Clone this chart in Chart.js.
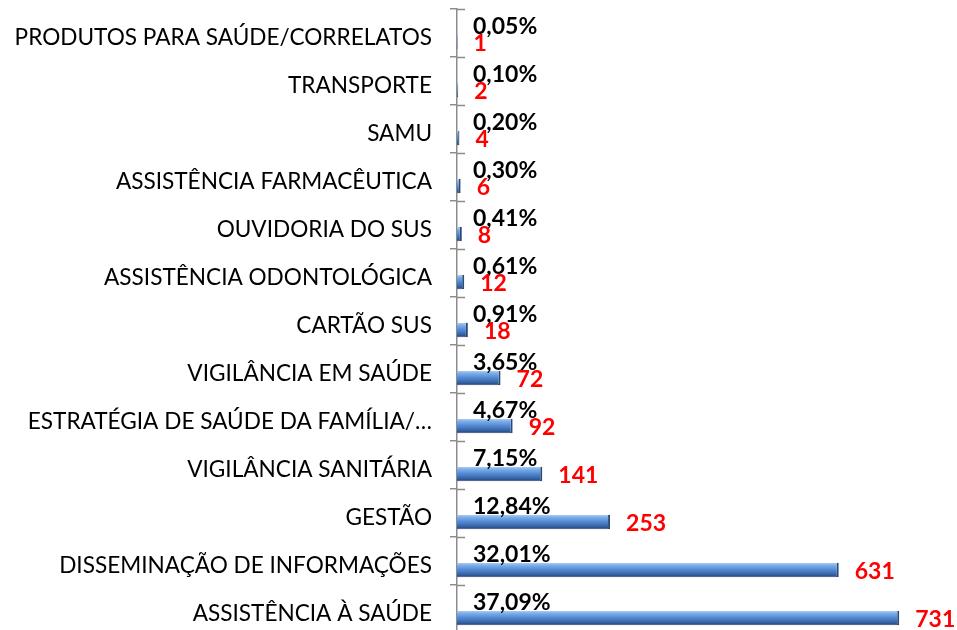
<!DOCTYPE html>
<html>
<head>
<meta charset="utf-8">
<script src="https://cdn.jsdelivr.net/npm/chart.js@4.4.1/dist/chart.umd.min.js"></script>
<style>
  html, body { margin: 0; padding: 0; background: #fff; overflow: hidden; }
  #wrap { width: 957px; height: 633px; }
</style>
</head>
<body>
<div id="wrap"><canvas id="grafico"></canvas></div>
<script>
// dados
const categorias = [
    "PRODUTOS PARA SAÚDE/CORRELATOS",
    "TRANSPORTE",
    "SAMU",
    "ASSISTÊNCIA FARMACÊUTICA",
    "OUVIDORIA DO SUS",
    "ASSISTÊNCIA ODONTOLÓGICA",
    "CARTÃO SUS",
    "VIGILÂNCIA EM SAÚDE",
    "ESTRATÉGIA DE SAÚDE DA FAMÍLIA/…",
    "VIGILÂNCIA SANITÁRIA",
    "GESTÃO",
    "DISSEMINAÇÃO DE INFORMAÇÕES",
    "ASSISTÊNCIA À SAÚDE"
];
const quantidades = [1, 2, 4, 6, 8, 12, 18, 72, 92, 141, 253, 631, 731];
const percentuais = ["0,05%", "0,10%", "0,20%", "0,30%", "0,41%", "0,61%", "0,91%",
    "3,65%", "4,67%", "7,15%", "12,84%", "32,01%", "37,09%"];
const vazio = quantidades.map(() => null); // espaço reservado acima da barra

function corBarra(ctx) {
    const chart = ctx.chart;
    const y = chart.scales.y;
    if (!y || ctx.dataIndex === undefined) return "#4f81bd";
    const centro = y.getPixelForValue(ctx.dataIndex) + 9;
    if (!isFinite(centro)) return "#4f81bd";
    const g = chart.ctx.createLinearGradient(0, centro - 7, 0, centro + 7);
    g.addColorStop(0, "#a9cbf3");
    g.addColorStop(0.2, "#78a9e6");
    g.addColorStop(0.55, "#4c82cc");
    g.addColorStop(0.85, "#335f9c");
    g.addColorStop(1, "#22406c");
    return g;
}

// rótulos: percentual (preto) e quantidade (vermelho)
const rotulos = {
    id: "rotulos",
    afterDatasetsDraw(chart) {
        const c = chart.ctx;
        const x = chart.scales.x;
        const y = chart.scales.y;
        const meta = chart.getDatasetMeta(1);
        c.save();
        c.textBaseline = "middle";
        c.textAlign = "left";
        // marcas do eixo do lado de dentro
        c.strokeStyle = "#8c8c8c";
        c.lineWidth = 1.5;
        for (let i = 0; i <= categorias.length; i++) {
            const yy = Math.round(y.top + i * (y.bottom - y.top) / categorias.length) + 0.5;
            c.beginPath();
            c.moveTo(x.left, yy);
            c.lineTo(x.left + 8, yy);
            c.stroke();
        }
        meta.data.forEach((bar, i) => {
            const centro = y.getPixelForValue(i);
            c.font = "bold 23px Lato";
            c.fillStyle = "#000";
            c.fillText(percentuais[i], x.left + 16, centro - 6);
            c.fillStyle = "#ff0000";
            c.fillText(String(quantidades[i]), bar.x + 16, bar.y + 2);
        });
        c.restore();
    }
};

const grafico = new Chart(document.getElementById("grafico"), {
    type: "bar",
    data: {
        labels: categorias,
        datasets: [
            { data: vazio, backgroundColor: "transparent" },
            {
                data: quantidades,
                backgroundColor: corBarra,
                borderColor: "#2b4a78",
                borderWidth: { top: 0, left: 0, bottom: 1, right: 2 },
                borderSkipped: "left"
            }
        ]
    },
    options: {
        indexAxis: "y",
        responsive: true,
        maintainAspectRatio: false,
        animation: false,
        layout: { padding: { top: 9, right: 16, left: 0, bottom: 0 } },
        datasets: { bar: { categoryPercentage: 0.75, barPercentage: 0.8 } },
        plugins: { legend: { display: false }, tooltip: { enabled: false } },
        scales: {
            x: { display: false, min: 0, max: 800 },
            y: {
                afterFit(s) { s.width = 457; s.paddingTop = 0; s.paddingBottom = 0; },
                grid: { offset: true, drawOnChartArea: false, tickLength: 7, color: "#8c8c8c", lineWidth: 1.5 },
                border: { display: true, color: "#8c8c8c", width: 1.5 },
                ticks: {
                    padding: 18,
                    labelOffset: 5,
                    color: "#000",
                    font: { family: "Lato", size: 22.6 }
                }
            }
        }
    },
    plugins: [rotulos]
});
grafico.update(); // segunda passada para os gradientes
</script>
</body>
</html>
